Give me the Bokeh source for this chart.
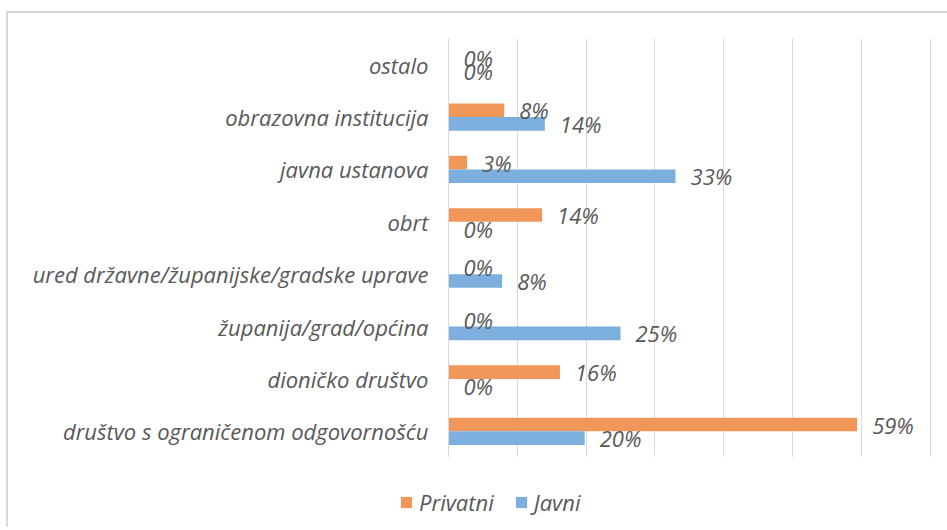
from bokeh.plotting import figure
from bokeh.layouts import column
from bokeh.models import FactorRange, Range1d, FixedTicker, Legend, LegendItem, ColumnDataSource
from bokeh.transform import dodge
from bokeh.core.properties import value
from bokeh.embed import file_html
from bokeh.resources import INLINE

# categories listed bottom -> top
categories = [
    "društvo s ograničenom odgovornošću",
    "dioničko društvo",
    "županija/grad/općina",
    "ured državne/županijske/gradske uprave",
    "obrt",
    "javna ustanova",
    "obrazovna institucija",
    "ostalo",
]
privatni = [59.4, 16.2, 0, 0, 13.6, 2.7, 8.1, 0]
javni = [19.8, 0, 25.0, 7.8, 0, 33.0, 14.0, 0]
series_names = ["Privatni", "Javni"]
grid_ticks = [0, 10, 20, 30, 40, 50, 60, 70]

ORANGE = "#F1975A"
BLUE = "#7CAFDD"
TEXT = "#595959"
GRID = "#D9D9D9"
FONT = "Open Sans"
FS = "22px"

src = ColumnDataSource(dict(
    cat=categories,
    privatni=privatni,
    javni=javni,
    plab=[f"{v:.0f}%" for v in privatni],
    jlab=[f"{v:.0f}%" for v in javni],
))

p = figure(
    width=939, height=444,
    y_range=FactorRange(factors=categories),
    x_range=Range1d(0, 70.5),
    output_backend="svg", toolbar_location=None,
    min_border_left=440, min_border_top=25, min_border_bottom=0, min_border_right=14,
)
p.frame_align = False
p.outline_line_color = None
p.background_fill_color = "white"
p.border_fill_color = "white"

r1 = p.hbar(y=dodge("cat", 0.13, range=p.y_range), right="privatni", left=0, height=0.26,
            fill_color=ORANGE, line_color=None, source=src)
r2 = p.hbar(y=dodge("cat", -0.13, range=p.y_range), right="javni", left=0, height=0.26,
            fill_color=BLUE, line_color=None, source=src)

common = dict(x_offset=15, text_align="left", text_baseline="middle",
              text_font=value(FONT), text_font_style="italic",
              text_font_size=FS, text_color=TEXT, source=src)
p.text(x="privatni", y=dodge("cat", 0.13, range=p.y_range), text="plab", **common)
p.text(x="javni", y=dodge("cat", -0.13, range=p.y_range), text="jlab", **common)

p.xaxis.visible = False
p.xgrid.ticker = FixedTicker(ticks=grid_ticks)
p.xgrid.grid_line_color = GRID
p.ygrid.visible = False

p.yaxis.axis_line_color = GRID
p.yaxis.major_tick_line_color = None
p.yaxis.minor_tick_line_color = None
p.yaxis.major_label_text_font = FONT
p.yaxis.major_label_text_font_style = "italic"
p.yaxis.major_label_text_font_size = FS
p.yaxis.major_label_text_color = TEXT
p.yaxis.major_label_standoff = 14

# legend strip: separate figure so the legend is not clipped by the bar frame.
# Its renderers use the same data, but the strip's x range keeps the bars out of view.
lf = figure(width=939, height=70, output_backend="svg", toolbar_location=None,
            min_border=0, x_range=Range1d(-2, -1), y_range=FactorRange(factors=categories))
lf.frame_align = False
lf.axis.visible = False
lf.grid.visible = False
lf.outline_line_color = None
lr1 = lf.hbar(y="cat", right="privatni", left=0, height=0.26,
              fill_color=ORANGE, line_color=None, source=src)
lr2 = lf.hbar(y="cat", right="javni", left=0, height=0.26,
              fill_color=BLUE, line_color=None, source=src)

legend = Legend(
    items=[LegendItem(label=series_names[0], renderers=[lr1]),
           LegendItem(label=series_names[1], renderers=[lr2])],
    orientation="horizontal", location=(391, 10),
    label_text_font=FONT, label_text_font_style="italic", label_text_font_size=FS,
    label_text_color=TEXT, glyph_width=14, glyph_height=14, label_standoff=6,
    spacing=20, padding=4, margin=0, border_line_color=None, background_fill_alpha=0,
)
lf.add_layout(legend, "center")

layout = column(p, lf, spacing=0,
                styles={"border-left": "2px solid #D9D9D9", "border-top": "2px solid #D9D9D9",
                        "margin-left": "6px", "margin-top": "11px"})

open("out.html", "w").write(file_html(layout, INLINE))
